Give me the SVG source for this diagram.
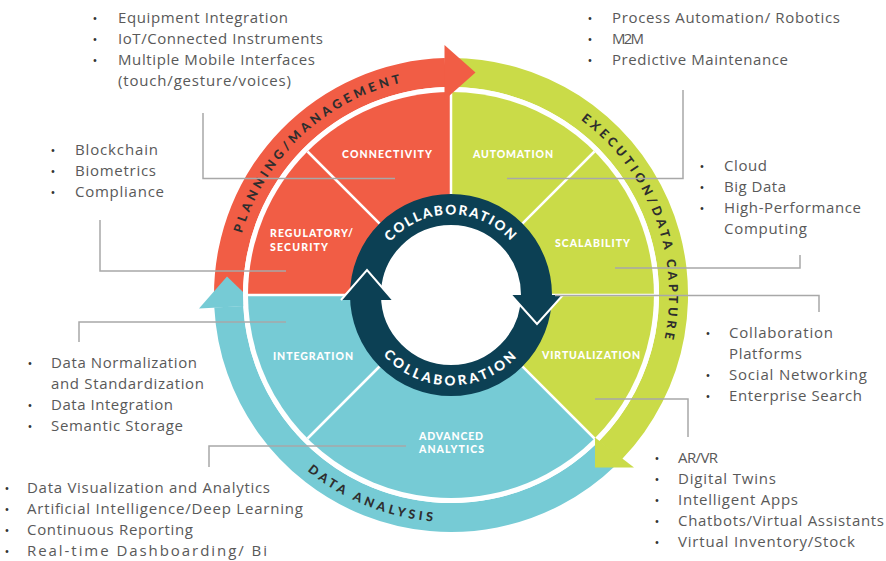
<svg xmlns="http://www.w3.org/2000/svg" width="886" height="561" viewBox="0 0 886 561">
<style>
.red{fill:#F15D45}.grn{fill:#CADB48}.blu{fill:#76CBD5}.nav{fill:#0C4054}
.lbl{font-family:Lato,"Open Sans",sans-serif;font-weight:900;font-size:10.5px;fill:#fff}
.band{font-family:Lato,"Open Sans",sans-serif;font-weight:900;font-size:12.5px;fill:#2e2e2e;letter-spacing:3.7px}
.col{font-family:Lato,"Open Sans",sans-serif;font-weight:900;font-size:13.5px;fill:#fff}
.txt{font-family:"Open Sans","Liberation Sans",sans-serif;font-size:15px;fill:#595959}
.bul{font-family:"Open Sans","Liberation Sans",sans-serif;font-size:13px;fill:#333;text-anchor:middle}
.call{fill:none;stroke:#a8a8a8;stroke-width:1.5}
.div{fill:none;stroke:#fff;stroke-width:2.5}
</style>
<defs>
<path id="pPlan" d="M233,295 A218,218 0 0 1 466.2,77.5"/>
<path id="pExec" d="M541.4,96.6 A218,218 0 0 1 649.4,385.4"/>
<path id="pData" d="M242.8,385.5 A227,227 0 0 0 541.5,503.2"/>
<path id="pColT" d="M370.5,295 A80.5,80.5 0 0 1 531.5,295"/>
<path id="pColB" d="M360.5,295 A90.5,90.5 0 0 0 541.5,295"/>
</defs>

<g id="bands">
<path class="blu" d="M615.6,465.5 A237,237 0 0 1 214.3,307.4 L243.3,305.9 A208,208 0 0 0 595.5,444.6 Z"/>
<path class="red" d="M214,295 A237,237 0 0 1 444.8,58.1 L445.6,87.1 A208,208 0 0 0 243,295 Z"/>
<path class="grn" d="M446.9,58 A237,237 0 0 1 621.9,459.2 L599,441.2 A208,208 0 0 0 447.4,87 Z"/>
<polygon class="blu" points="199,308.5 257,305.5 227,276.5"/>
<circle cx="451" cy="295" r="208" fill="#fff"/>
</g>

<g id="sectors">
<path class="red" d="M451,295 L248,295 A203,203 0 0 1 451,92 Z"/>
<path class="grn" d="M451,295 L451,92 A203,203 0 0 1 594.5,438.5 Z"/>
<path class="blu" d="M451,295 L594.5,438.5 A203,203 0 0 1 248,295 Z"/>
<path class="div" d="M451,295 L307.5,151.5 M451,295 L451,92 M451,295 L594.5,151.5 M451,295 L654,295 M451,295 L594.5,438.5 M451,295 L307.5,438.5 M451,295 L248,295"/>
</g>

<g id="arrowheads">
<polygon class="red" points="444.5,45 475.5,72.5 444.5,100"/>
<polygon class="grn" points="595,437.5 595,467.5 634,467.5"/>
</g>

<g id="collab-ring">
<circle cx="451" cy="295" r="85.5" fill="#fff" stroke="#0C4054" stroke-width="31"/>
<polygon class="nav" points="341,300 367,270 393,300"/>
<polyline points="341,300 367,270 393,300" fill="none" stroke="#fff" stroke-width="2"/>
<polygon class="nav" points="511,295 537,324 563,295"/>
<polyline points="511,295 537,324 563,295" fill="none" stroke="#fff" stroke-width="2"/>
<text class="col" style="letter-spacing:1.8px"><textPath href="#pColT" startOffset="50%" text-anchor="middle">COLLABORATION</textPath></text>
<text class="col" style="letter-spacing:3px"><textPath href="#pColB" startOffset="50%" text-anchor="middle">COLLABORATION</textPath></text>
</g>

<g id="band-labels">
<text class="band"><textPath href="#pPlan" startOffset="50%" text-anchor="middle">PLANNING/MANAGEMENT</textPath></text>
<text class="band"><textPath href="#pExec" startOffset="50%" text-anchor="middle">EXECUTION/DATA CAPTURE</textPath></text>
<text class="band"><textPath href="#pData" startOffset="50%" text-anchor="middle">DATA ANALYSIS</textPath></text>
</g>

<g id="node-connectivity"><text class="lbl" x="342" y="158" textLength="90" lengthAdjust="spacing">CONNECTIVITY</text></g>
<g id="node-automation"><text class="lbl" x="473" y="158" textLength="80" lengthAdjust="spacing">AUTOMATION</text></g>
<g id="node-regulatory"><text class="lbl" x="270" y="237" textLength="83" lengthAdjust="spacing">REGULATORY/</text><text class="lbl" x="270" y="251" textLength="58" lengthAdjust="spacing">SECURITY</text></g>
<g id="node-scalability"><text class="lbl" x="555" y="247" textLength="75" lengthAdjust="spacing">SCALABILITY</text></g>
<g id="node-integration"><text class="lbl" x="273" y="360" textLength="80" lengthAdjust="spacing">INTEGRATION</text></g>
<g id="node-virtualization"><text class="lbl" x="542" y="359" textLength="98" lengthAdjust="spacing">VIRTUALIZATION</text></g>
<g id="node-analytics"><text class="lbl" x="419" y="440" textLength="64" lengthAdjust="spacing">ADVANCED</text><text class="lbl" x="419" y="453" textLength="65" lengthAdjust="spacing">ANALYTICS</text></g>

<g id="connectors">
<path class="call" d="M203,113 V178.5 H395"/>
<path class="call" d="M100,220 V271 H286"/>
<path class="call" d="M683,90 V178.5 H507"/>
<path class="call" d="M615,268 H800 V255"/>
<path class="call" d="M555,295.5 H819 V312"/>
<path class="call" d="M595,399 H688 V437"/>
<path class="call" d="M79,342 V322 H286"/>
<path class="call" d="M406,446 H209 V467"/>
</g>

<g id="list-connectivity">
<text class="bul" x="95" y="23">•</text><text class="txt" x="118" y="23" textLength="170" lengthAdjust="spacing">Equipment Integration</text>
<text class="bul" x="95" y="44">•</text><text class="txt" x="118" y="44" textLength="205" lengthAdjust="spacing">IoT/Connected Instruments</text>
<text class="bul" x="95" y="65">•</text><text class="txt" x="118" y="65" textLength="197" lengthAdjust="spacing">Multiple Mobile Interfaces</text>
<text class="txt" x="118" y="86" textLength="173" lengthAdjust="spacing">(touch/gesture/voices)</text>
</g>
<g id="list-automation">
<text class="bul" x="590" y="23">•</text><text class="txt" x="612" y="23" textLength="228" lengthAdjust="spacing">Process Automation/ Robotics</text>
<text class="bul" x="590" y="44">•</text><text class="txt" x="612" y="44" textLength="32" lengthAdjust="spacing">M2M</text>
<text class="bul" x="590" y="65">•</text><text class="txt" x="612" y="65" textLength="176" lengthAdjust="spacing">Predictive Maintenance</text>
</g>
<g id="list-regulatory">
<text class="bul" x="53" y="155">•</text><text class="txt" x="75" y="155" textLength="83" lengthAdjust="spacing">Blockchain</text>
<text class="bul" x="53" y="176">•</text><text class="txt" x="75" y="176" textLength="81" lengthAdjust="spacing">Biometrics</text>
<text class="bul" x="53" y="197">•</text><text class="txt" x="75" y="197" textLength="89" lengthAdjust="spacing">Compliance</text>
</g>
<g id="list-scalability">
<text class="bul" x="702" y="171">•</text><text class="txt" x="724" y="171" textLength="43" lengthAdjust="spacing">Cloud</text>
<text class="bul" x="702" y="192">•</text><text class="txt" x="724" y="192" textLength="62" lengthAdjust="spacing">Big Data</text>
<text class="bul" x="702" y="213">•</text><text class="txt" x="724" y="213" textLength="137" lengthAdjust="spacing">High-Performance</text>
<text class="txt" x="724" y="234" textLength="83" lengthAdjust="spacing">Computing</text>
</g>
<g id="list-integration">
<text class="bul" x="30" y="368">•</text><text class="txt" x="51" y="368" textLength="146" lengthAdjust="spacing">Data Normalization</text>
<text class="txt" x="51" y="389" textLength="153" lengthAdjust="spacing">and Standardization</text>
<text class="bul" x="30" y="410">•</text><text class="txt" x="51" y="410" textLength="122" lengthAdjust="spacing">Data Integration</text>
<text class="bul" x="30" y="431">•</text><text class="txt" x="51" y="431" textLength="132" lengthAdjust="spacing">Semantic Storage</text>
</g>
<g id="list-virtualization">
<text class="bul" x="708" y="338">•</text><text class="txt" x="729" y="338" textLength="104" lengthAdjust="spacing">Collaboration</text>
<text class="txt" x="729" y="359" textLength="73" lengthAdjust="spacing">Platforms</text>
<text class="bul" x="708" y="380">•</text><text class="txt" x="729" y="380" textLength="138" lengthAdjust="spacing">Social Networking</text>
<text class="bul" x="708" y="401">•</text><text class="txt" x="729" y="401" textLength="133" lengthAdjust="spacing">Enterprise Search</text>
</g>
<g id="list-virtual-2">
<text class="bul" x="657" y="463">•</text><text class="txt" x="678" y="463" textLength="40" lengthAdjust="spacing">AR/VR</text>
<text class="bul" x="657" y="484">•</text><text class="txt" x="678" y="484" textLength="98" lengthAdjust="spacing">Digital Twins</text>
<text class="bul" x="657" y="505">•</text><text class="txt" x="678" y="505" textLength="120" lengthAdjust="spacing">Intelligent Apps</text>
<text class="bul" x="657" y="526">•</text><text class="txt" x="678" y="526" textLength="206" lengthAdjust="spacing">Chatbots/Virtual Assistants</text>
<text class="bul" x="657" y="547">•</text><text class="txt" x="678" y="547" textLength="177" lengthAdjust="spacing">Virtual Inventory/Stock</text>
</g>
<g id="list-analytics">
<text class="bul" x="7" y="493">•</text><text class="txt" x="27" y="493" textLength="243" lengthAdjust="spacing">Data Visualization and Analytics</text>
<text class="bul" x="7" y="514">•</text><text class="txt" x="27" y="514" textLength="276" lengthAdjust="spacing">Artificial Intelligence/Deep Learning</text>
<text class="bul" x="7" y="535">•</text><text class="txt" x="27" y="535" textLength="166" lengthAdjust="spacing">Continuous Reporting</text>
<text class="bul" x="7" y="556">•</text><text class="txt" x="27" y="556" textLength="240" lengthAdjust="spacing">Real-time Dashboarding/ Bi</text>
</g>
</svg>
